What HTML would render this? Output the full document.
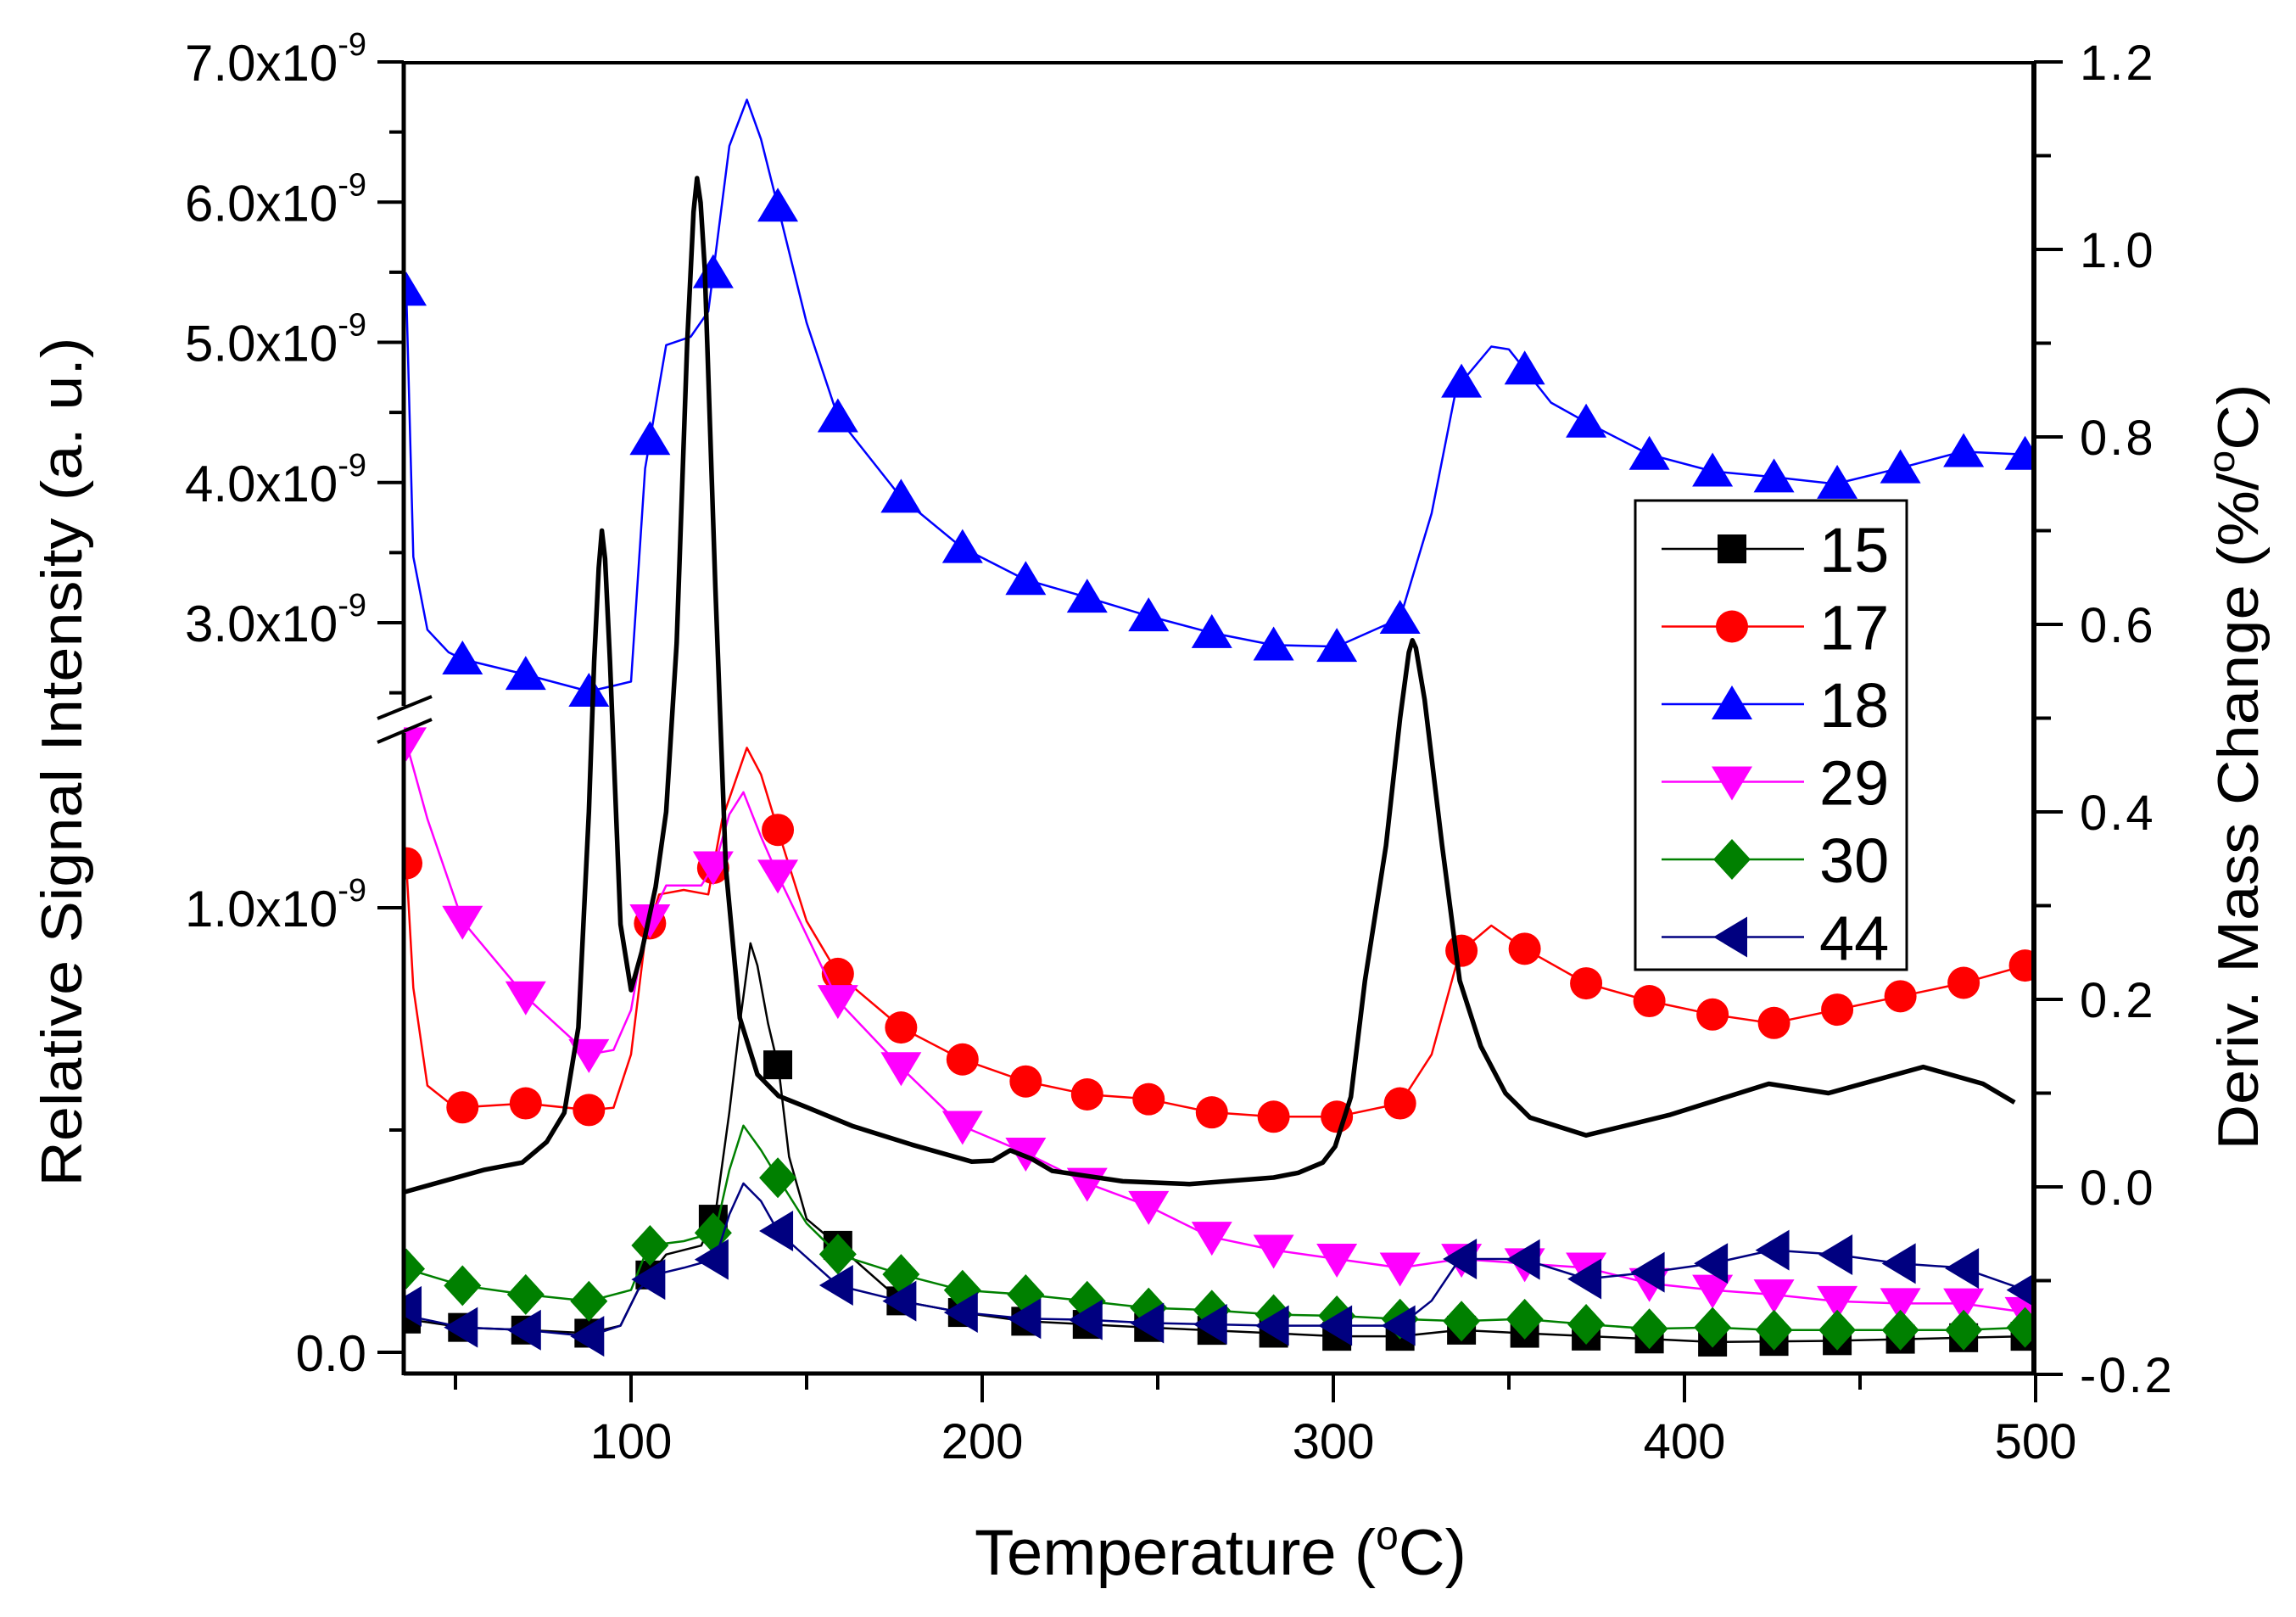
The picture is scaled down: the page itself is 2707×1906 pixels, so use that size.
<!DOCTYPE html>
<html><head><meta charset="utf-8"><style>
html,body{margin:0;padding:0;background:#fff;}
svg{display:block;font-family:"Liberation Sans",Arial,sans-serif;}
</style></head><body>
<svg id="chart" width="2707" height="1906" viewBox="0 0 2707 1906" xmlns="http://www.w3.org/2000/svg">
<defs><clipPath id="plotclip"><rect x="476" y="74" width="1922" height="1545"/></clipPath></defs>
<rect x="0" y="0" width="2707" height="1906" fill="#fff"/>
<g id="series" clip-path="url(#plotclip)"></g>
<g id="axes"></g>
<g id="legend"></g>
<text x="1439" y="1856" font-size="76" text-anchor="middle">Temperature (<tspan font-size="48" dy="-30">o</tspan><tspan dy="30">C)</tspan></text>
<text transform="translate(96,898) rotate(-90)" font-size="68" text-anchor="middle" textLength="1001" lengthAdjust="spacingAndGlyphs">Relative Signal Intensity (a. u.)</text>
<text transform="translate(2662,904) rotate(-90)" font-size="68" text-anchor="middle" textLength="903" lengthAdjust="spacingAndGlyphs">Deriv. Mass Change (%/<tspan font-size="44" dy="-28">o</tspan><tspan dy="28">C)</tspan></text>
</svg>
<script>
// ---- data ----
const markerT = [36,52,70,88,105.4,123.4,141.8,158.9,176.9,194.4,212.4,229.9,247.4,265.4,283,301,319,336.5,354.5,372,390,408,425.5,443.5,461.5,479.5,497];
const t15 = [35,52,70,88,97,102,110,120,124,128,131,134,136,139,142,145,150,159,177,194,212,247,283,301,319,336,354,390,408,443,497];
const v15 = [0.076,0.056,0.05,0.043,0.06,0.14,0.22,0.24,0.31,0.54,0.74,0.92,0.87,0.74,0.64,0.44,0.3,0.24,0.115,0.09,0.07,0.056,0.043,0.036,0.036,0.05,0.043,0.03,0.023,0.026,0.036];
const t17 = [35,36,38,42,50,70,88,95,100,104,108,115,122,126,133,137,142,150,159,177,194,212,230,247,265,283,301,319,328,336,345,354,372,390,408,425,443,461,479,497];
const v17 = [1.12,1.10,0.82,0.60,0.55,0.56,0.545,0.55,0.67,0.93,1.03,1.04,1.03,1.20,1.36,1.30,1.17,0.97,0.85,0.73,0.66,0.61,0.58,0.57,0.54,0.53,0.53,0.56,0.67,0.90,0.96,0.91,0.83,0.79,0.76,0.74,0.77,0.80,0.83,0.87];
const t18 = [35,36,38,42,48,52,70,88,95,100,104,110,117,122,128,133,137,142,150,159,177,194,212,230,247,265,283,301,319,328,335,345,350,362,372,390,408,425,443,461,479,497];
const v18 = [5.56,5.37,3.47,2.95,2.79,2.74,2.63,2.51,2.55,2.58,4.10,4.98,5.04,5.22,6.40,6.73,6.45,5.95,5.14,4.46,3.89,3.54,3.31,3.18,3.05,2.93,2.84,2.83,3.03,3.78,4.67,4.97,4.95,4.57,4.43,4.20,4.08,4.04,3.99,4.10,4.22,4.20];
const t29 = [35,42,52,70,88,95,100,104,110,120,124,128,132,137,142,159,177,194,212,230,247,265,283,301,319,336,354,372,390,408,425,443,461,479,497];
const v29 = [1.40,1.20,0.97,0.80,0.67,0.68,0.77,0.95,1.05,1.05,1.10,1.21,1.26,1.16,1.07,0.79,0.64,0.51,0.45,0.38,0.33,0.26,0.23,0.21,0.19,0.21,0.20,0.19,0.155,0.14,0.13,0.115,0.11,0.11,0.09];
const t30 = [35,52,70,88,100,105,115,124,128,132,137,142,150,159,177,194,212,230,247,265,283,301,319,336,354,372,390,408,425,443,461,479,497];
const v30 = [0.19,0.15,0.13,0.115,0.14,0.24,0.25,0.27,0.41,0.51,0.455,0.39,0.29,0.22,0.175,0.14,0.13,0.115,0.10,0.095,0.085,0.082,0.075,0.07,0.075,0.063,0.053,0.056,0.05,0.05,0.05,0.05,0.056];
const t44 = [35,40,52,70,88,97,102,107,115,124,128,132,137,142,159,177,194,212,230,247,265,283,301,319,328,336,354,372,390,408,425,443,461,479,497];
const v44 = [0.11,0.076,0.056,0.05,0.036,0.06,0.14,0.175,0.19,0.21,0.31,0.38,0.34,0.27,0.15,0.115,0.09,0.076,0.073,0.066,0.063,0.06,0.06,0.06,0.116,0.21,0.21,0.165,0.18,0.20,0.23,0.22,0.20,0.19,0.14];
const tD = [35,58,69,76,81,85,88,89.5,90.8,91.7,92.6,94,95.5,97,100,103,107,110,113,116,117.8,118.8,119.8,121,124,127,131,136,142,150,163,180,197,203,208,214,220,240,259,283,290,297,300.5,305,309,315,319,321.5,322.5,323.5,326,331,336,342,349,356,372,396,424,441,468,485,494];
const vD = [-0.006,0.018,0.026,0.048,0.079,0.17,0.40,0.56,0.66,0.70,0.67,0.56,0.42,0.28,0.21,0.25,0.32,0.40,0.58,0.90,1.04,1.076,1.05,0.98,0.64,0.34,0.18,0.12,0.097,0.085,0.065,0.045,0.027,0.028,0.039,0.03,0.017,0.006,0.003,0.01,0.015,0.026,0.043,0.096,0.22,0.364,0.5,0.57,0.583,0.575,0.52,0.364,0.22,0.15,0.1,0.074,0.055,0.077,0.11,0.10,0.128,0.11,0.09];
const seriesNames = ['15','17','18','29','30','44'];
const xTickLabels = ['100','200','300','400','500'];
const leftUpperTicks = ['3.0','4.0','5.0','6.0','7.0'];
const leftLowerTicks = ['0.0','1.0'];
const rightTicks = ['-0.2','0.0','0.2','0.4','0.6','0.8','1.0','1.2'];

// ---- scales ----
const NS='http://www.w3.org/2000/svg';
function X(t){return 744+(t-100)*4.14;}
function YL(v){return 1594-v*524;}
function YU(v){return 734-(v-3)*165.25;}
function YR(d){return 1399-d*1105;}
function interp(ts,vs,t){
  if(t<=ts[0])return vs[0];
  for(let i=1;i<ts.length;i++){if(t<=ts[i]){const f=(t-ts[i-1])/(ts[i]-ts[i-1]);return vs[i-1]+f*(vs[i]-vs[i-1]);}}
  return vs[vs.length-1];
}
function mk(tag,attrs,parent){const e=document.createElementNS(NS,tag);for(const k in attrs)e.setAttribute(k,attrs[k]);parent.appendChild(e);return e;}
function markerShape(kind,cx,cy,color,parent){
  let e;
  if(kind==='square'){e=mk('rect',{x:cx-17,y:cy-17,width:34,height:34,fill:color},parent);}
  else if(kind==='circle'){e=mk('circle',{cx:cx,cy:cy,r:19,fill:color},parent);}
  else if(kind==='up'){e=mk('polygon',{points:`${cx},${cy-22} ${cx-24},${cy+18} ${cx+24},${cy+18}`,fill:color},parent);}
  else if(kind==='down'){e=mk('polygon',{points:`${cx},${cy+22} ${cx-24},${cy-18} ${cx+24},${cy-18}`,fill:color},parent);}
  else if(kind==='diamond'){e=mk('polygon',{points:`${cx},${cy-24} ${cx+22},${cy} ${cx},${cy+24} ${cx-22},${cy}`,fill:color},parent);}
  else if(kind==='left'){e=mk('polygon',{points:`${cx-22},${cy} ${cx+18},${cy-24} ${cx+18},${cy+24}`,fill:color},parent);}
  return e;
}
const sg=document.getElementById('series');
const defs=[
  {name:'15',t:t15,v:v15,y:YL,color:'#000',kind:'square'},
  {name:'17',t:t17,v:v17,y:YL,color:'#ff0000',kind:'circle'},
  {name:'18',t:t18,v:v18,y:YU,color:'#0000ff',kind:'up'},
  {name:'29',t:t29,v:v29,y:YL,color:'#ff00ff',kind:'down'},
  {name:'30',t:t30,v:v30,y:YL,color:'#008000',kind:'diamond'},
  {name:'44',t:t44,v:v44,y:YL,color:'#000080',kind:'left'}
];
defs.forEach(s=>{
  const g=mk('g',{},sg);
  
  
  const pts=s.t.map((t,i)=>X(t).toFixed(1)+','+s.y(s.v[i]).toFixed(1)).join(' ');
  const pl=mk('polyline',{points:pts,fill:'none',stroke:s.color,'stroke-width':2.5,'stroke-linejoin':'round'},g);
  
  
  markerT.forEach(t=>{
    const m=markerShape(s.kind,X(t),s.y(interp(s.t,s.v,t)),s.color,g);
    
    
  });
});
// deriv curve
const dl=mk('polyline',{points:tD.map((t,i)=>X(t).toFixed(1)+','+YR(vD[i]).toFixed(1)).join(' '),fill:'none',stroke:'#000','stroke-width':5.5,'stroke-linejoin':'round'},sg);



// ---- axes ----
const ax=document.getElementById('axes');
mk('line',{x1:476,y1:74,x2:2398,y2:74,stroke:'#000','stroke-width':4},ax);
mk('line',{x1:476,y1:1619,x2:2400,y2:1619,stroke:'#000','stroke-width':5},ax);
mk('line',{x1:476,y1:72,x2:476,y2:832,stroke:'#000','stroke-width':5},ax);
mk('line',{x1:476,y1:864,x2:476,y2:1621,stroke:'#000','stroke-width':5},ax);
mk('line',{x1:2398,y1:72,x2:2398,y2:1621,stroke:'#000','stroke-width':6},ax);
const br1=mk('line',{x1:445,y1:847,x2:509,y2:821,stroke:'#000','stroke-width':4},ax);


const br2=mk('line',{x1:445,y1:875,x2:509,y2:848,stroke:'#000','stroke-width':4},ax);


// x ticks
for(let t=50;t<=500;t+=50){
  const major=t%100===0;
  mk('line',{x1:X(t),y1:1619,x2:X(t),y2:major?1653:1638,stroke:'#000','stroke-width':4},ax);
}
xTickLabels.forEach(l=>{
  const e=mk('text',{x:X(+l),y:1719,'font-size':58,'text-anchor':'middle'},ax);
  e.textContent=l;
  
  
});
// left ticks
function leftLabel(y,l){
  const e=mk('text',{x:432,y:y+22,'font-size':60,'text-anchor':'end'},ax);
  
  
  if(l==='0.0'){e.textContent=l;return;}
  const a=mk('tspan',{},e);a.textContent=l+'x10';
  const b=mk('tspan',{'font-size':38,dy:-30},e);b.textContent='-9';
}
leftUpperTicks.forEach(l=>{const y=YU(+l);mk('line',{x1:445,y1:y,x2:476,y2:y,stroke:'#000','stroke-width':4},ax);leftLabel(y,l);});
[2.5,3.5,4.5,5.5,6.5].forEach(v=>{const y=YU(v);mk('line',{x1:459,y1:y,x2:476,y2:y,stroke:'#000','stroke-width':4},ax);});
leftLowerTicks.forEach(l=>{const y=YL(+l);mk('line',{x1:445,y1:y,x2:476,y2:y,stroke:'#000','stroke-width':4},ax);leftLabel(y,l);});
[0.5].forEach(v=>{const y=YL(v);mk('line',{x1:459,y1:y,x2:476,y2:y,stroke:'#000','stroke-width':4},ax);});
// right ticks
rightTicks.forEach(l=>{
  const y=YR(+l);
  mk('line',{x1:2398,y1:y,x2:2432,y2:y,stroke:'#000','stroke-width':4},ax);
  const e=mk('text',{x:2452,y:y+21,'font-size':58,'letter-spacing':3},ax);
  e.textContent=l;
  
  
});
for(let d=-0.1;d<1.2;d+=0.2){const y=YR(d);mk('line',{x1:2398,y1:y,x2:2418,y2:y,stroke:'#000','stroke-width':4},ax);}

// ---- legend ----
const lg=document.getElementById('legend');
mk('rect',{x:1928,y:590,width:320,height:553,fill:'#fff',stroke:'#000','stroke-width':3},lg);
defs.forEach((s,i)=>{
  const y=647+i*91.5;
  const g=mk('g',{},lg);
  
  
  mk('line',{x1:1959,y1:y,x2:2127,y2:y,stroke:s.color,'stroke-width':2.5},g);
  markerShape(s.kind,2042,y,s.color,g);
  const t=mk('text',{x:2145,y:y+27,'font-size':74},g);
  t.textContent=seriesNames[i];
});
</script>
</body></html>
